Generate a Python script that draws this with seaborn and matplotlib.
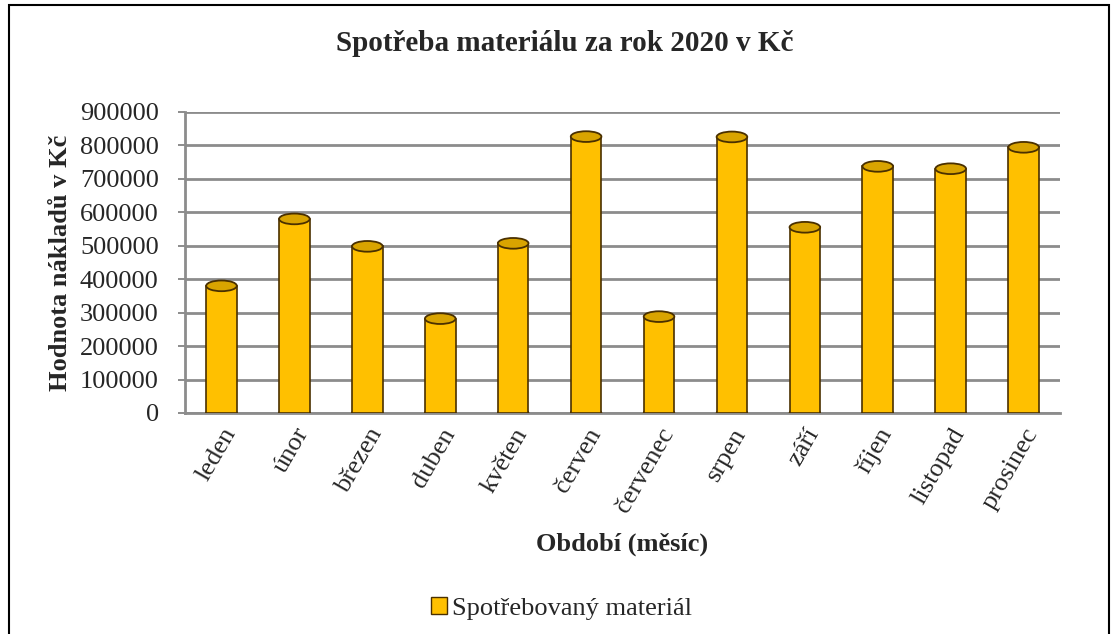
import pandas as pd
import seaborn as sns
import matplotlib.pyplot as plt
from matplotlib.patches import Ellipse, Rectangle, Patch

# DATA
mesice = ['leden', 'únor', 'březen', 'duben', 'květen', 'červen',
          'červenec', 'srpen', 'září', 'říjen', 'listopad', 'prosinec']
naklady = [380000, 580000, 498000, 282000, 507000, 826000,
           288000, 825000, 555000, 737000, 730000, 794000]
y_ticks = [0, 100000, 200000, 300000, 400000, 500000, 600000, 700000, 800000, 900000]

df = pd.DataFrame({'mesic': mesice, 'naklady': naklady})

sns.set_style('white')
plt.rcParams['font.family'] = ['Liberation Serif', 'DejaVu Serif']

fig = plt.figure(figsize=(11.18, 6.34), dpi=100)
ax = fig.add_axes([0.1655, 0.3486, 0.7827, 0.475])

gold = '#FFC000'
edge = '#4a3000'
grey = '#8c8c8c'
sns.barplot(data=df, x='mesic', y='naklady', color=gold, width=0.42,
            edgecolor=edge, linewidth=1.2, saturation=1, ax=ax, zorder=3)

# cylinder caps, taken from the bars themselves
for bar in ax.patches:
    cx = bar.get_x() + bar.get_width() / 2
    top = bar.get_height()
    ax.add_patch(Ellipse((cx, top), bar.get_width(), 32000, facecolor='#D9A400',
                         edgecolor=edge, linewidth=1.3, zorder=4))
    ax.add_patch(Ellipse((cx, 0), bar.get_width(), 32000, facecolor=gold,
                         edgecolor=edge, linewidth=1.2, zorder=2.9))

ax.set_ylim(0, 900000)
ax.set_xlim(-0.5, len(mesice) - 0.5)
ax.set_yticks(y_ticks)
ax.set_yticklabels([str(v) for v in y_ticks], fontsize=19)
ax.yaxis.grid(True, color=grey, linewidth=2, zorder=0)
ax.set_axisbelow(True)

# tick marks between categories like Excel
ax.set_xticks(range(len(mesice)))
ax.set_xticklabels(mesice, rotation=60, ha='right', rotation_mode='anchor', fontsize=19)
ax.tick_params(axis='x', length=0, pad=8)
ax.set_xticks([i - 0.5 for i in range(len(mesice) + 1)], minor=True)
ax.tick_params(axis='x', which='minor', length=6, color=grey, width=1.4)
ax.tick_params(axis='y', length=5, color=grey, width=1.4, pad=14, left=True)

for side in ['top', 'right']:
    ax.spines[side].set_visible(False)
for side in ['bottom', 'left']:
    ax.spines[side].set_color(grey)
    ax.spines[side].set_linewidth(2)

ax.set_xlabel('Období (měsíc)', fontsize=19, fontweight='bold', labelpad=12)
ax.set_ylabel('Hodnota nákladů v Kč', fontsize=19, fontweight='bold')
ax.yaxis.set_label_coords(-0.129, 0.5)

fig.text(0.505, 0.932, 'Spotřeba materiálu za rok 2020 v Kč', ha='center', va='center',
         fontsize=21, fontweight='bold')

fig.legend(handles=[Patch(facecolor=gold, edgecolor=edge, label='Spotřebovaný materiál')],
           loc='center', bbox_to_anchor=(0.502, 0.04), frameon=False, fontsize=19,
           handlelength=0.6, handleheight=0.6, handletextpad=0.2)

# outer frame
fig.patches.append(Rectangle((0.008, -0.05), 0.984, 1.042, transform=fig.transFigure,
                             fill=False, edgecolor='black', linewidth=1.5))

fig.savefig('out.png', dpi=100)
